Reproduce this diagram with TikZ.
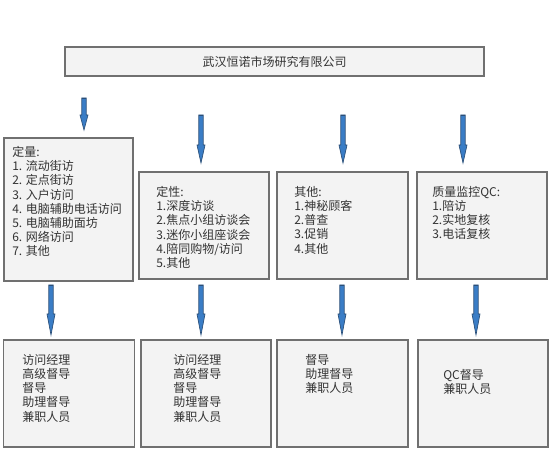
\documentclass[tikz,border=0pt]{standalone}
\usepackage{fontspec}
\setmainfont{Liberation Sans}
\newfontfamily\cjk{Noto Sans CJK SC}
\usetikzlibrary{calc}
\definecolor{boxfill}{HTML}{F3F3F3}
\definecolor{boxline}{HTML}{707070}
\definecolor{arrfill}{HTML}{3A7DC6}
\definecolor{arrline}{HTML}{2B4F78}
\definecolor{txt}{HTML}{333333}
\tikzset{
  panel/.style={draw=boxline, fill=boxfill, line width=1.1pt, inner sep=0pt},
  label/.style={anchor=north west, inner sep=0pt, align=left, text=txt,
    font=\cjk\fontsize{9}{10.65}\selectfont},
  arrowshape/.style={fill=arrfill, draw=arrline, line width=0.5pt, line join=miter},
}
\newcommand\bluearrow[3]{%
  \filldraw[arrowshape] ($(#1)+(-2.2,0)$) -- ($(#1)+(2.2,0)$) -- ($(#2)+(2.2,-#3)$)
   -- ($(#2)+(4,-#3)$) -- (#2) -- ($(#2)+(-4,-#3)$) -- ($(#2)+(-2.2,-#3)$) -- cycle;
  \draw[arrline, line width=1.2pt] ($(#1)+(-2.2,0.6)$) -- ($(#1)+(2.2,0.6)$);}
\begin{document}
\begin{tikzpicture}[x=0.75pt, y=-0.75pt]
\useasboundingbox (0,0) rectangle (550,463);
% title
\node[panel, minimum width=419*0.75pt, minimum height=29*0.75pt] (title) at (274.5,61.5) {};
\node[text=txt, inner sep=0pt, font=\cjk\fontsize{9}{10.65}\selectfont] (titletext) at (title.center) {武汉恒诺市场研究有限公司};
% middle boxes
\node[panel, minimum width=129*0.75pt, minimum height=143*0.75pt] (b1) at (68.5,209.5) {};
\node[panel, minimum width=130*0.75pt, minimum height=107*0.75pt] (b2) at (204,225.5) {};
\node[panel, minimum width=131*0.75pt, minimum height=107*0.75pt] (b3) at (342.5,225.5) {};
\node[panel, minimum width=130*0.75pt, minimum height=107*0.75pt] (b4) at (482,225.5) {};
% bottom boxes
\node[panel, minimum width=131*0.75pt, minimum height=107*0.75pt] (c1) at (69,393.5) {};
\node[panel, minimum width=130*0.75pt, minimum height=107*0.75pt] (c2) at (206,393.5) {};
\node[panel, minimum width=131*0.75pt, minimum height=107*0.75pt] (c3) at (342.5,393.5) {};
\node[panel, minimum width=130*0.75pt, minimum height=107*0.75pt] (c4) at (483,393.5) {};
% texts
\node[label] (t1) at (12,146) {定量:\\1. 流动街访\\2. 定点街访\\3. 入户访问\\4. 电脑辅助电话访问\\5. 电脑辅助面坊\\6. 网络访问\\7. 其他};
\node[label] (t2) at (156,186) {定性:\\1.深度访谈\\2.焦点小组访谈会\\3.迷你小组座谈会\\4.陪同购物/访问\\5.其他};
\node[label] (t3) at (294,186) {其他:\\1.神秘顾客\\2.普查\\3.促销\\4.其他};
\node[label] (t4) at (432,186) {质量监控QC:\\1.陪访\\2.实地复核\\3.电话复核};
\node[label] (u1) at (22,354) {访问经理\\高级督导\\督导\\助理督导\\兼职人员};
\node[label] (u2) at (173,354) {访问经理\\高级督导\\督导\\助理督导\\兼职人员};
\node[label] (u3) at (305,354) {督导\\助理督导\\兼职人员};
\node[label] (u4) at (443,369) {QC督导\\兼职人员};
% arrow coordinates
\coordinate (a1s) at (84,98);   \coordinate (a1e) at (84,130);
\coordinate (a2s) at (201,115); \coordinate (a2e) at (201,163);
\coordinate (a3s) at (343,115); \coordinate (a3e) at (343,163);
\coordinate (a4s) at (463,115); \coordinate (a4e) at (463,163);
\coordinate (d1s) at (51,285);  \coordinate (d1e) at (51,335);
\coordinate (d2s) at (201,285); \coordinate (d2e) at (201,335);
\coordinate (d3s) at (342,285); \coordinate (d3e) at (342,335);
\coordinate (d4s) at (476,285); \coordinate (d4e) at (476,335);
\bluearrow{a1s}{a1e}{15}
\bluearrow{a2s}{a2e}{18}
\bluearrow{a3s}{a3e}{18}
\bluearrow{a4s}{a4e}{18}
\bluearrow{d1s}{d1e}{21}
\bluearrow{d2s}{d2e}{21}
\bluearrow{d3s}{d3e}{21}
\bluearrow{d4s}{d4e}{21}
\end{tikzpicture}
\end{document}
